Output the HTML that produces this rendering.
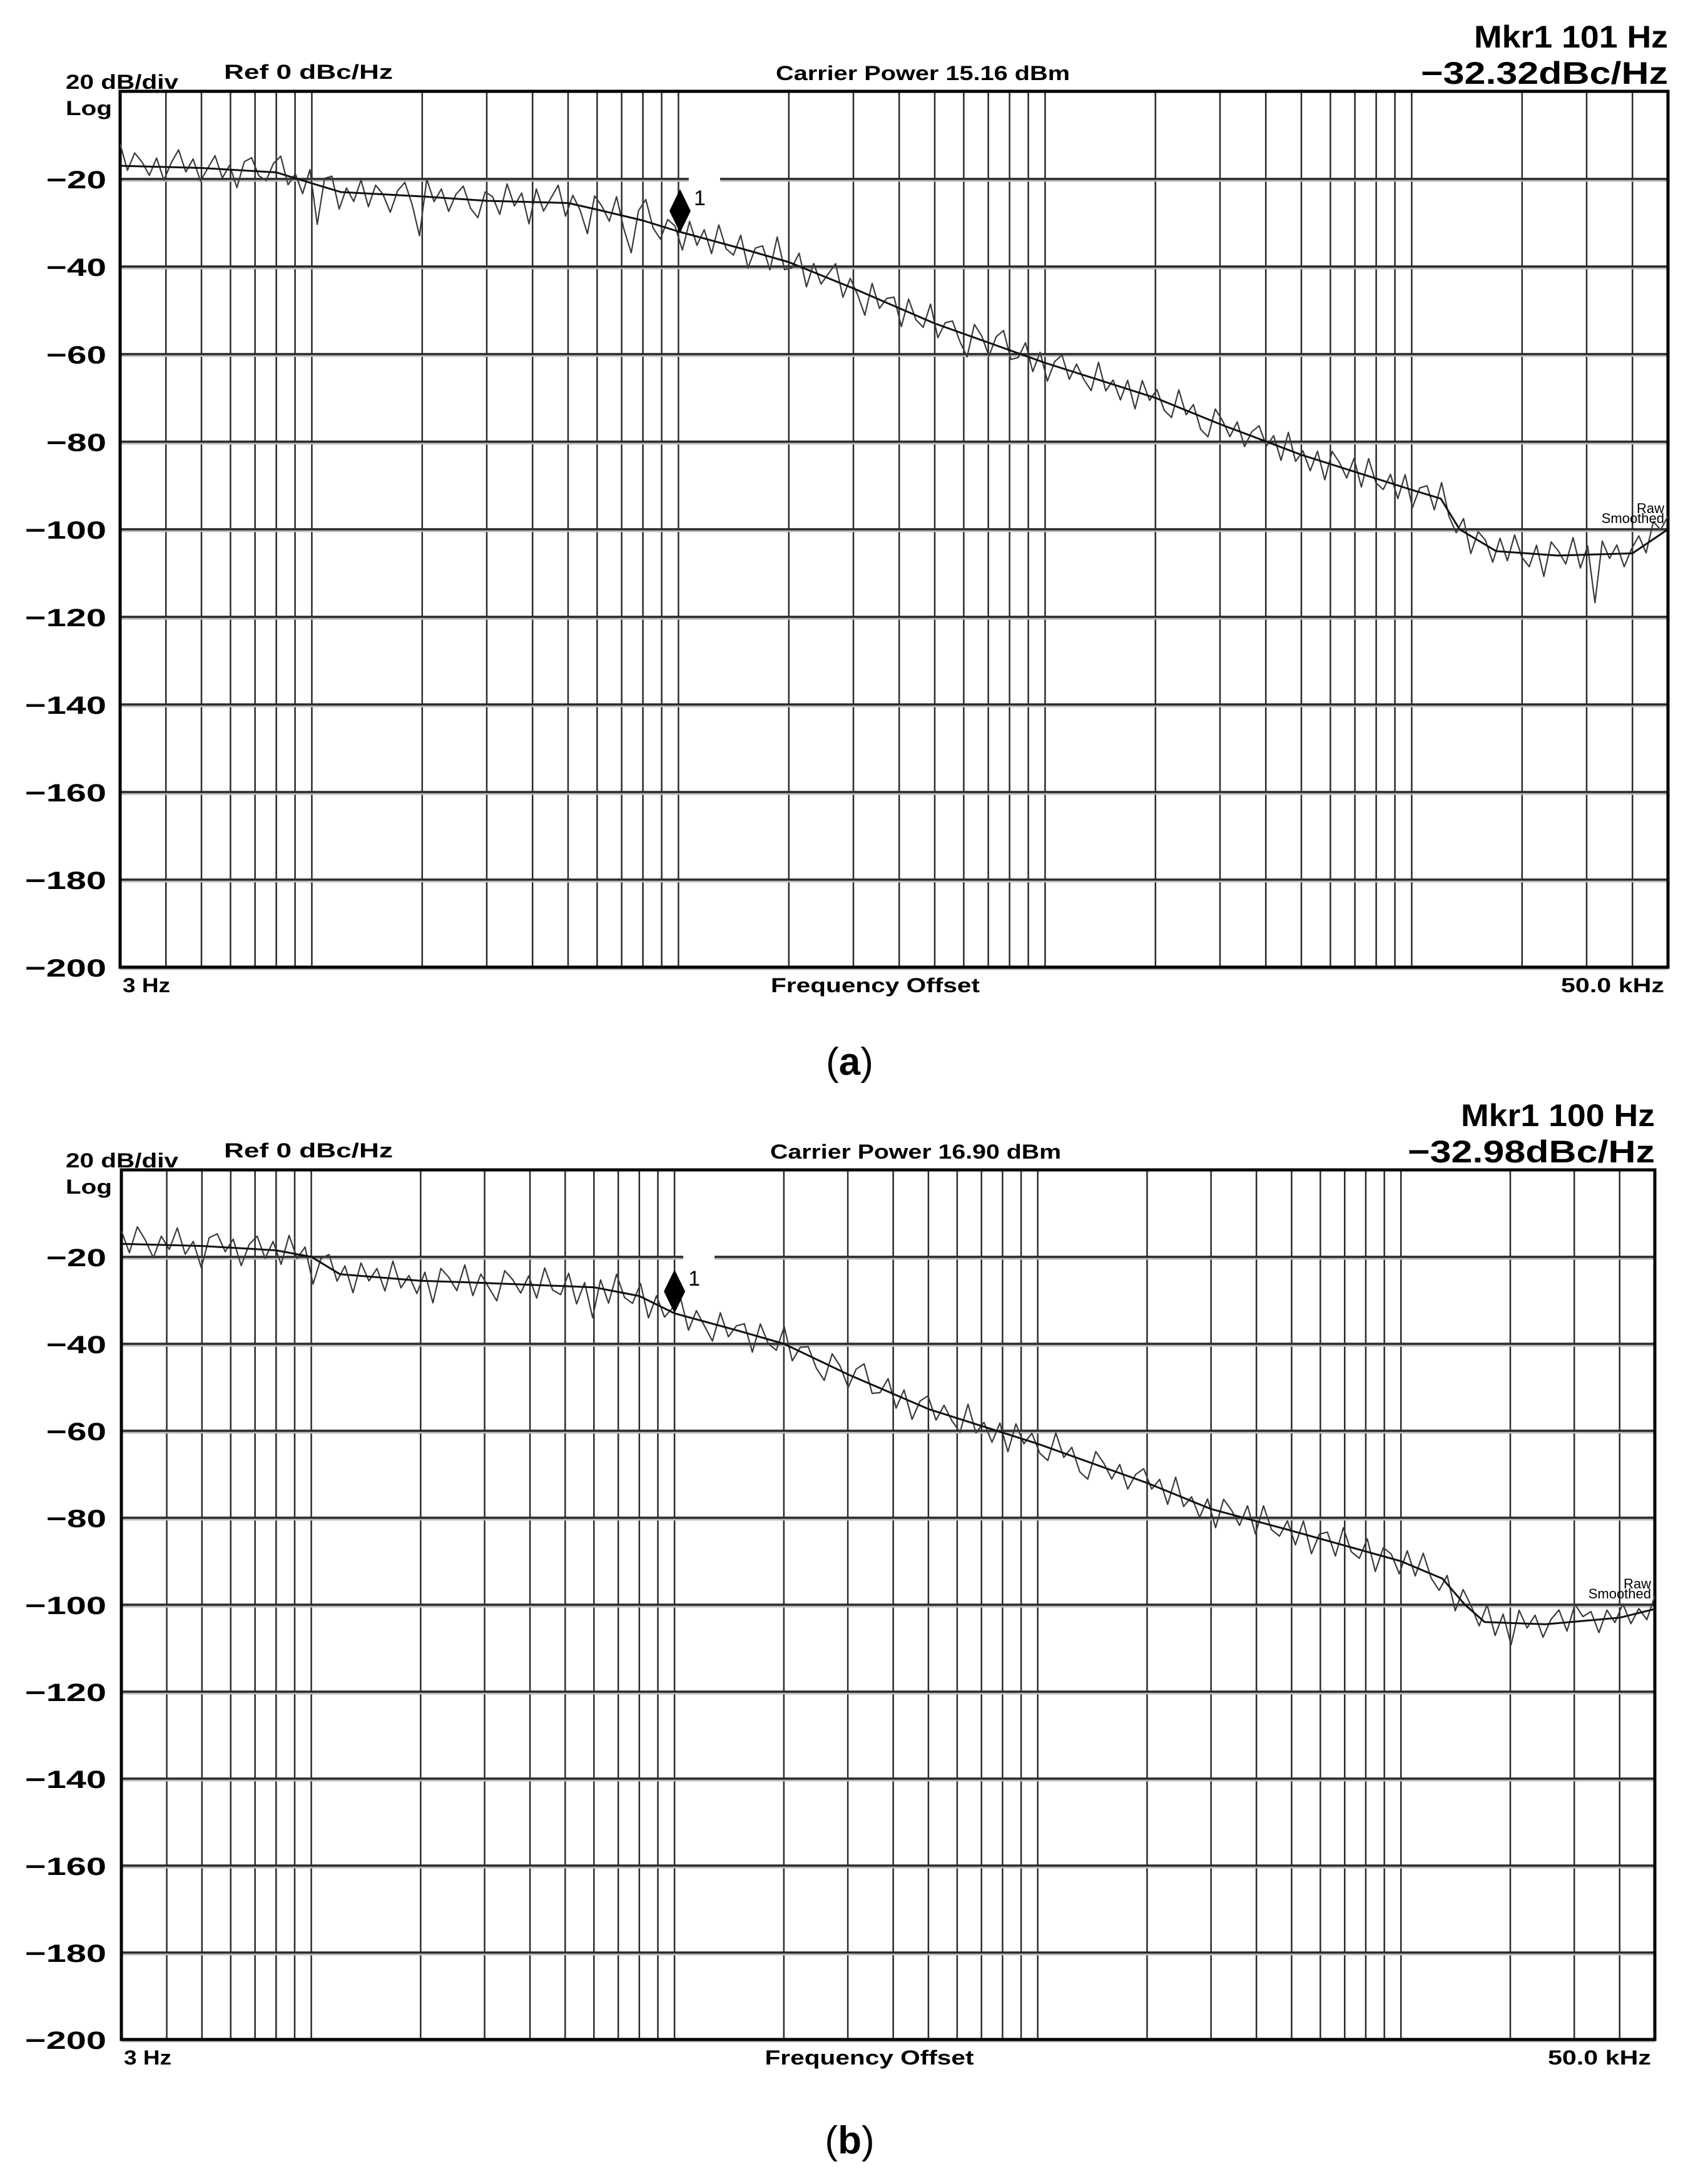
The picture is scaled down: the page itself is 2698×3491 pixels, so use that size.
<!DOCTYPE html>
<html><head><meta charset="utf-8"><style>
html,body{margin:0;padding:0;background:#fff;}
svg{display:block;}
text{font-family:"Liberation Sans",sans-serif;}
</style></head><body>
<svg id="fig" width="2698" height="3491" viewBox="0 0 2698 3491" xmlns="http://www.w3.org/2000/svg"></svg>
<script>
// ===== Chart data =====
const yTickValues = [-20,-40,-60,-80,-100,-120,-140,-160,-180,-200];
const yTickLabels = ["\u221220","\u221240","\u221260","\u221280","\u2212100","\u2212120","\u2212140","\u2212160","\u2212180","\u2212200"];
// smoothed traces (frequency Hz, dBc/Hz)
const smoothFreqA = [3,5,8,10,12,20,30,50,60,80,100,150,200,300,500,1000,2000,3000,5000,10000,12000,13500,17000,25000,40000,50000];
const smoothValA  = [-17,-17.5,-18.5,-21,-23,-24,-25,-25.5,-27,-29.5,-32,-36,-39,-45,-53,-62,-70,-76,-83,-91,-93,-100,-105,-106,-105.5,-100];
const smoothFreqB = [3,5,8,10,12,20,30,60,80,100,150,200,300,500,1000,2000,3000,5000,10000,13000,15000,17000,25000,40000,50000];
const smoothValB  = [-17,-17.5,-18.5,-20,-24,-25.5,-26,-27,-29,-33,-37,-40,-47,-55,-63,-72,-78,-83,-90,-94,-100,-104,-104.5,-103,-101];
// raw trace deviations from smoothed (dB), evenly spaced in log frequency
const rawDevA = [5,-1,3,1,-2,2,-3,1,4,-1,2,-3,0,3,-2,1,-4,2,3,-1,-2,2,4,-2,1,-3,3,-9,2,3,-4,1,-2,3,-3,2,0,-4,1,3,-2,-9,4,-1,2,-3,1,3,-2,-4,2,1,-3,4,-1,2,-5,3,-2,1,4,-3,2,-1,-6,3,1,-2,4,-3,-8,2,5,-1,-3,2,1,-4,3,-2,2,-3,4,-1,-2,3,-4,1,2,-3,5,-2,-1,3,-4,2,-2,1,4,-3,2,-1,-5,3,-2,1,2,-4,3,-1,-2,4,-3,1,2,-2,-5,3,1,-3,2,4,-2,-1,3,-3,2,-4,1,3,-2,2,-1,-3,4,-2,1,-3,2,-4,3,-1,2,-2,-3,4,-1,2,-3,-4,3,1,-2,2,-3,1,3,-1,2,-3,4,-2,1,-3,2,-4,3,1,-2,3,-3,4,-1,-2,2,-3,3,-4,1,2,-3,4,-1,-2,3,-4,2,1,-3,3,-2,4,-1,-3,2,-5,3,1,-2,4,-3,2,-11,3,-1,2,-3,1,3,-2,4,1,3];
const rawDevB = [3,-2,4,1,-3,2,-1,4,-2,1,-5,2,3,-1,2,-4,1,3,-2,2,-3,4,-1,2,-6,1,3,-2,2,-4,3,-1,2,-3,4,-2,1,-3,2,-5,3,1,-2,4,-3,2,-1,-4,3,1,-2,2,-3,4,-1,-2,3,-4,1,-7,2,-3,4,-1,-2,3,-4,2,-2,1,4,-3,2,-1,-4,3,-2,1,2,-4,3,-1,-2,4,-3,1,2,-2,-4,3,1,-3,2,4,-2,-1,3,-3,2,-4,1,3,-2,2,-1,-3,4,-2,1,-3,2,-4,3,-1,2,-2,-3,4,-1,2,-3,-4,3,1,-2,2,-3,1,3,-1,2,-3,4,-2,1,-3,2,-4,3,1,-2,3,-3,4,-1,-2,2,-3,3,-4,1,2,-3,4,-1,-2,3,-4,2,1,-3,3,-2,4,-1,-3,2,-4,3,1,-2,4,-3,2,-5,3,-1,2,-3,1,3,-2,4,1,2,-3,2,-1,3,-2,1,-2,3];
const markerFreqA = 101, markerValA = -32.32;
const markerFreqB = 100, markerValB = -32.98;

const NS = "http://www.w3.org/2000/svg";
const svg = document.getElementById('fig');
function mk(tag, attrs, parent){
  const e = document.createElementNS(NS, tag);
  for (const k in attrs) e.setAttribute(k, attrs[k]);
  (parent||svg).appendChild(e);
  return e;
}
function txt(str, x, y, size, opts, parent){
  const t = mk('text', {x:x, y:y, 'font-size':size, fill:'#000'}, parent);
  if (opts.weight) t.setAttribute('font-weight', opts.weight);
  if (opts.anchor) t.setAttribute('text-anchor', opts.anchor);
  if (opts.len) { t.setAttribute('textLength', opts.len); t.setAttribute('lengthAdjust','spacingAndGlyphs'); }
  if (opts.family) t.setAttribute('font-family', opts.family);
  t.textContent = str;
  return t;
}
function interp(freqs, vals, f){
  const lf = Math.log10(f);
  for (let i=0;i<freqs.length-1;i++){
    const a=Math.log10(freqs[i]), b=Math.log10(freqs[i+1]);
    if (lf>=a && lf<=b){ const t=(lf-a)/(b-a); return vals[i]+t*(vals[i+1]-vals[i]); }
  }
  return lf<Math.log10(freqs[0]) ? vals[0] : vals[vals.length-1];
}

function drawChart(cfg){
  const g = mk('g', {});
  
  
  const {L,R,T,B} = cfg;
  const fMin=3, fMax=50000;
  const xScale = f => L + Math.log10(f/fMin)/Math.log10(fMax/fMin)*(R-L);
  const yScale = v => T + (-v)/200*(B-T);

  // vertical grid lines
  for (let k=0;k<=4;k++){
    for (let n=1;n<=9;n++){
      const f = n*Math.pow(10,k);
      if (f<=fMin || f>=fMax) continue;
      const x = xScale(f);
      const l = mk('line',{x1:x,y1:T,x2:x,y2:B,stroke:'#2a2a2a','stroke-width':2.5}, g);
      
      
    }
  }
  // horizontal grid lines
  yTickValues.forEach((v,i)=>{
    const y = yScale(v);
    mk('line',{x1:L,y1:y+3,x2:R,y2:y+3,stroke:'#bbb','stroke-width':3}, g);
    const l = mk('line',{x1:L,y1:y,x2:R,y2:y,stroke:'#2a2a2a','stroke-width':3.5}, g);
    
    
    const t = txt(yTickLabels[i], 170, y+15, 40, {weight:'bold', anchor:'end', len: yTickLabels[i].length>3?130:96}, g);
    
    
  });
  // frame
  const fr = mk('rect',{x:L,y:T,width:R-L,height:B-T,fill:'none',stroke:'#000','stroke-width':5}, g);
  
  

  // raw trace
  const N = cfg.rawDev.length;
  let d='';
  for (let i=0;i<N;i++){
    const f = fMin*Math.pow(fMax/fMin, i/(N-1));
    const v = interp(cfg.sf, cfg.sv, f) + cfg.rawDev[i];
    d += (i?'L':'M') + xScale(f).toFixed(1) + ' ' + yScale(v).toFixed(1);
  }
  const raw = mk('path',{d:d,fill:'none',stroke:'#3a3a3a','stroke-width':2.2,'stroke-linejoin':'round'}, g);
  
  
  // smoothed trace
  let ds='';
  cfg.sf.forEach((f,i)=>{ ds += (i?'L':'M') + xScale(f).toFixed(1)+' '+yScale(cfg.sv[i]).toFixed(1); });
  const sm = mk('path',{d:ds,fill:'none',stroke:'#111','stroke-width':3,'stroke-linejoin':'round'}, g);
  
  

  // marker
  const mx = xScale(cfg.mf), my = yScale(cfg.mv);
  const gap = mk('rect',{x:mx+14,y:yScale(-20)-6,width:50,height:12,fill:'#fff'}, g);
  const mk1 = mk('polygon',{points:`${mx},${my} ${mx-17},${my-35} ${mx},${my-70} ${mx+17},${my-35}`,fill:'#000'}, g);
  
  
  const ml = txt('1', mx+22, my-44, 34, {}, g);
  
  

  // legend labels
  const lr = txt('Raw', R-6, yScale(-96)+2, 22, {anchor:'end'}, g);
  
  
  const ls = txt('Smoothed', R-6, yScale(-98)+4, 22, {anchor:'end'}, g);
  
  

  // header texts
  const t1 = txt('20 dB/div', 105, T-4, 32, {weight:'bold', len:180}, g);
  
  
  const t2 = txt('Log', 105, T+38, 32, {weight:'bold', len:74}, g);
  
  
  const t3 = txt('Ref  0 dBc/Hz', 358, T-20, 32, {weight:'bold', len:270}, g);
  
  
  const t4 = txt(cfg.carrier, cfg.carrierX, T-18, 32, {weight:'bold', len:cfg.carrierLen}, g);
  
  
  const t5 = txt(cfg.mkr1, R, T-70, 50, {weight:'bold', anchor:'end', len:310}, g);
  
  
  const t6 = txt(cfg.mkr2, R, T-12, 50, {weight:'bold', anchor:'end', len:395}, g);
  
  
  // x labels
  const x1 = txt('3 Hz', L+4, B+40, 32, {weight:'bold', len:76}, g);
  
  
  const x2 = txt('Frequency Offset', (L+R)/2-30, B+40, 32, {weight:'bold', anchor:'middle', len:334}, g);
  
  
  const x3 = txt('50.0 kHz', R-6, B+40, 32, {weight:'bold', anchor:'end', len:165}, g);
  
  
  // caption
  const cap = mk('text',{x:1358,y:cfg.capY,'font-size':62,'text-anchor':'middle','font-family':'"Liberation Serif",serif'}, g);
  
  
  cap.innerHTML = '(<tspan font-weight="bold">'+cfg.cap+'</tspan>)';
}

drawChart({name:'chart-a', L:192, R:2666, T:146, B:1546, sf:smoothFreqA, sv:smoothValA, rawDev:rawDevA,
  mf:markerFreqA, mv:markerValA, carrier:'Carrier Power 15.16 dBm', carrierX:1240, carrierLen:470,
  mkr1:'Mkr1 101 Hz', mkr2:'\u221232.32dBc/Hz', cap:'a', capY:1718});
drawChart({name:'chart-b', L:194, R:2645, T:1870, B:3260, sf:smoothFreqB, sv:smoothValB, rawDev:rawDevB,
  mf:markerFreqB, mv:markerValB, carrier:'Carrier Power 16.90 dBm', carrierX:1231, carrierLen:465,
  mkr1:'Mkr1 100 Hz', mkr2:'\u221232.98dBc/Hz', cap:'b', capY:3442});
</script>
</body></html>
